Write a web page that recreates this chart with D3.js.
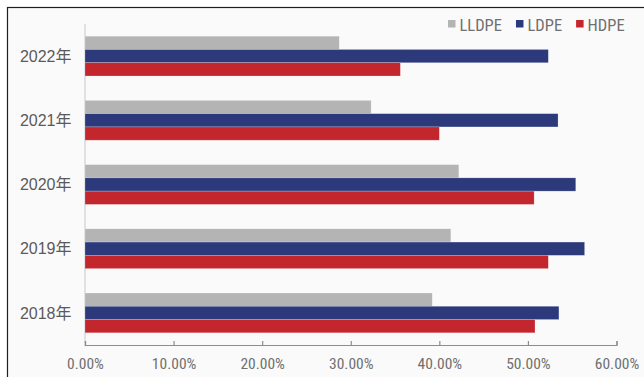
<!DOCTYPE html>
<html>
<head>
<meta charset="utf-8">
<script src="https://cdn.jsdelivr.net/npm/d3@7"></script>
<style>
  html, body { margin: 0; padding: 0; background: #ffffff; }
  svg { display: block; }
  .lbl { font-family: "Liberation Sans Narrow", "Roboto Condensed", "Liberation Sans", Arial, sans-serif; }
  .cjk { font-family: "Liberation Sans Narrow", "Liberation Sans", "Noto Sans CJK SC", sans-serif; }
</style>
</head>
<body>
<svg id="chart" width="644" height="377"></svg>
<script>
// Share of each polyethylene grade, by year
const years = ["2022年", "2021年", "2020年", "2019年", "2018年"];
const seriesNames = ["LLDPE", "LDPE", "HDPE"];
const seriesColors = ["#b4b4b5", "#2c3a7b", "#c4262e"];
const lldpe = [0.287, 0.323, 0.422, 0.413, 0.392];
const ldpe  = [0.523, 0.534, 0.554, 0.564, 0.535];
const hdpe  = [0.356, 0.400, 0.507, 0.523, 0.508];
const xTicks = [0, 0.1, 0.2, 0.3, 0.4, 0.5, 0.6];

const seriesValues = [lldpe, ldpe, hdpe];
const rows = years.map((y, i) => ({
  year: y,
  values: seriesNames.map((s, k) => ({ key: s, value: seriesValues[k][i], color: seriesColors[k] }))
}));

const svg = d3.select("#chart");

// chart frame
svg.append("rect")
  .attr("x", 7.5).attr("y", 7.5)
  .attr("width", 700).attr("height", 400)
  .attr("fill", "#fafafa")
  .attr("stroke", "#1e1e1e").attr("stroke-width", 1.2);

const plot = { left: 85, right: 616.5, top: 24, bottom: 345 };

const x = d3.scaleLinear().domain([0, 0.6]).range([plot.left, plot.right]);
const y = d3.scaleBand().domain(years).range([plot.top, plot.bottom])
  .paddingInner(0.38).paddingOuter(0.19);
const ySub = d3.scaleBand().domain(seriesNames).range([0, y.bandwidth()]);

// vertical category axis line
svg.append("line")
  .attr("x1", plot.left).attr("x2", plot.left)
  .attr("y1", plot.top).attr("y2", plot.bottom + 1.5)
  .attr("stroke", "#d9d9d9").attr("stroke-width", 1.5);

// bars
const groups = svg.append("g").selectAll("g").data(rows).join("g")
  .attr("transform", d => `translate(0,${y(d.year)})`);
groups.selectAll("rect").data(d => d.values).join("rect")
  .attr("x", x(0))
  .attr("y", d => ySub(d.key))
  .attr("width", d => x(d.value) - x(0))
  .attr("height", ySub.bandwidth())
  .attr("fill", d => d.color)
  .attr("stroke", "#ffffff").attr("stroke-opacity", 0.35).attr("stroke-width", 0.6);

// value axis
const xAxis = d3.axisBottom(x).tickValues(xTicks)
  .tickFormat(d3.format(".2%")).tickSize(-4).tickPadding(13);
const gx = svg.append("g").attr("transform", `translate(0,${plot.bottom})`).call(xAxis);
gx.select(".domain").attr("stroke", "#8c8c8c").attr("stroke-width", 1.2);
gx.selectAll(".tick line").attr("stroke", "#8c8c8c").attr("stroke-width", 1.2);
gx.selectAll(".tick text")
  .attr("class", "lbl")
  .attr("fill", "#707070")
  .style("font-size", "15.5px");

// category labels
svg.append("g").selectAll("text").data(years).join("text")
  .attr("class", "cjk")
  .attr("x", 71.5)
  .attr("y", d => y(d) + y.bandwidth() / 2)
  .attr("dy", "0.36em")
  .attr("text-anchor", "end")
  .attr("fill", "#5a5a5a")
  .style("font-size", "16px")
  .text(d => d);

// legend, laid out left to right from its start point
const legend = svg.append("g");
const items = legend.selectAll("g").data(seriesNames).join("g");
items.append("rect")
  .attr("width", 7.5).attr("height", 7.5)
  .attr("y", 20)
  .attr("fill", (d, i) => seriesColors[i]);
items.append("text")
  .attr("class", "lbl")
  .attr("x", 11.5).attr("y", 30.5)
  .attr("fill", "#707070")
  .style("font-size", "16.5px")
  .text(d => d);
let cursor = 448;
items.each(function () {
  const g = d3.select(this);
  g.attr("transform", `translate(${cursor},0)`);
  const w = g.select("text").node().getComputedTextLength();
  cursor += 11.5 + w + 14;
});
</script>
</body>
</html>
